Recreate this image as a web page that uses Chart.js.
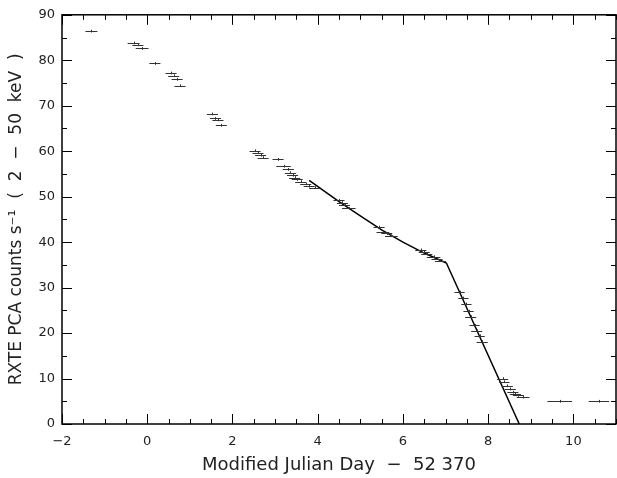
<!DOCTYPE html>
<html>
<head>
  <title>RXTE PCA light curve</title>
  <script src="https://cdn.jsdelivr.net/npm/chart.js"></script>
  <style>
    body { margin: 0; background: white; }
  </style>
</head>
<body>
  <canvas id="lc" width="617" height="478"></canvas>

  <script>
    // observations: day offset, count rate, half-width in time, half-height in rate
    const days = [
      -1.31, -0.32, -0.22, -0.12, 0.18,
      0.56, 0.62, 0.70, 0.77,
      1.53, 1.60, 1.66, 1.74,
      2.53, 2.60, 2.66, 2.72, 3.07,
      3.20, 3.31, 3.36, 3.41, 3.46, 3.52, 3.60, 3.72, 3.80, 3.93,
      4.50, 4.58, 4.63, 4.73,
      5.44, 5.53, 5.62, 5.73,
      6.42, 6.50, 6.56, 6.72, 6.80, 6.88,
      7.33, 7.42, 7.49, 7.54, 7.59, 7.68, 7.73, 7.80, 7.86,
      8.34, 8.38, 8.45, 8.52, 8.58, 8.64, 8.71, 8.82,
      9.68, 10.60
    ];
    const rates = [
      86.4, 83.8, 83.4, 82.6, 79.3,
      77.2, 76.6, 75.8, 74.4,
      68.2, 67.2, 66.9, 65.7,
      60.1, 59.7, 59.1, 58.6, 58.2,
      56.7, 56.0, 55.3, 54.7, 54.2, 53.8, 53.3, 52.8, 52.3, 52.0,
      49.2, 48.7, 48.1, 47.4,
      43.3, 42.3, 41.9, 41.4,
      38.3, 37.8, 37.4, 36.8, 36.4, 35.9,
      29.0, 27.7, 26.4, 24.8, 23.6, 21.7, 20.5, 19.4, 18.1,
      10.0, 9.3, 8.4, 7.7, 7.0, 6.6, 6.3, 5.9,
      5.0, 5.0
    ];
    const dayErr = [
      0.14, 0.14, 0.13, 0.15, 0.13,
      0.13, 0.13, 0.13, 0.13,
      0.13, 0.13, 0.13, 0.13,
      0.13, 0.13, 0.13, 0.13, 0.13,
      0.17, 0.13, 0.13, 0.13, 0.13, 0.13, 0.13, 0.13, 0.13, 0.13,
      0.13, 0.13, 0.13, 0.16,
      0.13, 0.15, 0.13, 0.15,
      0.13, 0.13, 0.13, 0.16, 0.13, 0.13,
      0.12, 0.12, 0.12, 0.12, 0.13, 0.12, 0.13, 0.12, 0.13,
      0.13, 0.12, 0.13, 0.13, 0.13, 0.13, 0.13, 0.15,
      0.29, 0.24
    ];
    const rateErr = 0.3;

    // fitted decay model
    const fitDays = [3.8, 4.5, 5.0, 5.5, 6.0, 6.5, 6.9, 7.02, 8.73];
    const fitRates = [53.6, 48.9, 45.8, 42.7, 40.0, 37.6, 35.9, 35.4, 0];

    const fontFam = "'DejaVu Sans', sans-serif";

    function minusLabel(v) {
      return v < 0 ? '\u2212' + Math.abs(v) : String(v);
    }

    // error bars, drawn from the scales
    const errorBars = {
      id: 'errorBars',
      afterDatasetsDraw(chart) {
        const c = chart.ctx, xs = chart.scales.x, ys = chart.scales.y;
        c.save();
        c.strokeStyle = '#333';
        c.lineWidth = 1;
        c.beginPath();
        for (let i = 0; i < days.length; i++) {
          const y = Math.round(ys.getPixelForValue(rates[i])) + 0.5;
          const x0 = xs.getPixelForValue(days[i] - dayErr[i]);
          const x1 = xs.getPixelForValue(days[i] + dayErr[i]);
          const xc = Math.round(xs.getPixelForValue(days[i])) + 0.5;
          c.moveTo(x0, y); c.lineTo(x1, y);
          c.moveTo(xc, ys.getPixelForValue(rates[i] - rateErr));
          c.lineTo(xc, ys.getPixelForValue(rates[i] + rateErr));
        }
        c.stroke();
        c.restore();
      }
    };

    // frame with inward ticks on all four sides
    const frame = {
      id: 'frame',
      afterDraw(chart) {
        const c = chart.ctx, a = chart.chartArea, xs = chart.scales.x, ys = chart.scales.y;
        c.save();
        c.strokeStyle = '#000';
        c.lineWidth = 1.5;
        c.strokeRect(a.left, a.top, a.right - a.left, a.bottom - a.top);
        c.lineWidth = 1;
        c.beginPath();
        for (let v = -2; v <= 11.001; v += 0.5) {
          const px = Math.round(xs.getPixelForValue(v)) + 0.5;
          const len = Math.abs(v % 2) < 1e-6 ? 10 : 5;
          c.moveTo(px, a.bottom); c.lineTo(px, a.bottom - len);
          c.moveTo(px, a.top); c.lineTo(px, a.top + len);
        }
        for (let v = 0; v <= 90; v += 5) {
          const py = Math.round(ys.getPixelForValue(v)) + 0.5;
          const len = v % 10 === 0 ? 10 : 5;
          c.moveTo(a.left, py); c.lineTo(a.left + len, py);
          c.moveTo(a.right, py); c.lineTo(a.right - len, py);
        }
        c.stroke();
        c.restore();
      }
    };

    new Chart(document.getElementById('lc'), {
      type: 'scatter',
      data: {
        datasets: [{
          label: 'fit',
          data: fitDays.map((d, i) => ({ x: d, y: fitRates[i] })),
          showLine: true,
          borderColor: '#000',
          borderWidth: 1.5,
          pointRadius: 0,
          tension: 0
        }, {
          label: 'PCA',
          data: days.map((d, i) => ({ x: d, y: rates[i] })),
          pointRadius: 0
        }]
      },
      options: {
        responsive: false,
        animation: false,
        devicePixelRatio: 1,
        layout: { padding: { top: 7, right: 1, left: 0, bottom: 0 } },
        plugins: { legend: { display: false }, tooltip: { enabled: false } },
        scales: {
          x: {
            type: 'linear',
            min: -2,
            max: 11,
            grid: { display: false, drawTicks: false },
            border: { display: false },
            afterBuildTicks: s => { s.ticks = s.ticks.filter(t => Math.abs(t.value % 2) < 1e-6); },
            afterFit: s => { s.height = 54; },
            ticks: {
              stepSize: 2,
              padding: 10,
              color: '#222',
              font: { family: fontFam, size: 13 },
              callback: v => minusLabel(v)
            },
            title: {
              display: true,
              text: 'Modified Julian Day  \u2212  52 370',
              color: '#222',
              font: { family: fontFam, size: 18 },
              padding: { top: 0, bottom: 2 }
            }
          },
          y: {
            min: 0,
            max: 90,
            grid: { display: false, drawTicks: false },
            border: { display: false },
            afterFit: s => { s.width = 62; },
            ticks: {
              stepSize: 10,
              padding: 7,
              color: '#222',
              font: { family: fontFam, size: 13 }
            },
            title: {
              display: true,
              text: 'RXTE PCA counts s\u207B\u00B9  (  2  \u2212  50  keV  )',
              color: '#222',
              font: { family: fontFam, size: 17 },
              padding: { top: 6, bottom: 0 }
            }
          }
        }
      },
      plugins: [errorBars, frame]
    });
  </script>
</body>
</html>
